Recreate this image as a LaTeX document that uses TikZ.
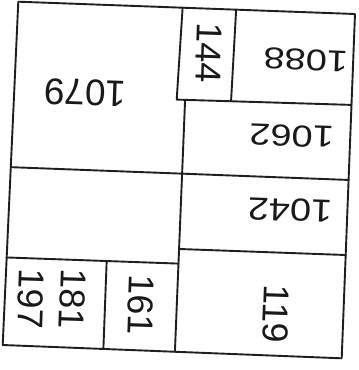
\documentclass[tikz,border=0pt]{standalone}
\usepackage{fontspec}
\setmainfont{Liberation Sans}
\usetikzlibrary{calc}
\begin{document}
\begin{tikzpicture}[x=1pt,y=-1pt,
  wall/.style={line width=1.9pt,draw=black!88,line cap=round,line join=round},
  hlabel/.style={inner sep=0pt,rotate=178,font=\fontsize{38}{38}\selectfont,text=black!90},
  vlabel/.style={inner sep=0pt,rotate=-92,font=\fontsize{36}{36}\selectfont,text=black!90}]
\fill[white] (0,0) rectangle (359,370);
\useasboundingbox (0,0) rectangle (359,370);
% corners
\coordinate (TL) at (18.3,1.7);
\coordinate (TR) at (355,14);
\coordinate (BR) at (341.7,358.3);
\coordinate (BL) at (2.7,345);
% 144 box and first cross line
\coordinate (P1) at ($(TL)!0.488!(TR)$);
\coordinate (P2) at ($(TL)!0.647!(TR)$);
\coordinate (H1a) at (176.7,99.6);
\coordinate (H1b) at ($(TR)!0.264!(BR)$);
\coordinate (P2b) at ($(H1a)!0.311!(H1b)$);
% long vertical
\coordinate (Vt) at ($(H1a)!0.048!(H1b)$);
\coordinate (Vb) at ($(BL)!0.508!(BR)$);
% long horizontal
\coordinate (L2a) at ($(TL)!0.482!(BL)$);
\coordinate (L2b) at ($(TR)!0.482!(BR)$);
% right column lower line
\coordinate (L3a) at ($(Vt)!0.592!(Vb)$);
\coordinate (L3b) at ($(TR)!0.70!(BR)$);
% left lower line
\coordinate (L4a) at ($(TL)!0.745!(BL)$);
\coordinate (L4b) at ($(Vt)!0.650!(Vb)$);
% small separator
\coordinate (S1) at ($(L4a)!0.582!(L4b)$);
\coordinate (S2) at ($(BL)!0.297!(BR)$);
% walls
\draw[wall] (TL) -- (TR) -- (BR) -- (BL) -- cycle;
\draw[wall] (P1) -- (H1a) -- (H1b);
\draw[wall] (P2) -- (P2b);
\draw[wall] (Vt) -- (Vb);
\draw[wall] (L2a) -- (L2b);
\draw[wall] (L3a) -- (L3b);
\draw[wall] (L4a) -- (L4b);
\draw[wall] (S1) -- (S2);
% labels
\node[hlabel,font=\fontsize{37}{37}\selectfont] (n1079) at (85.3,92.7) {1079};
\node[hlabel] (n1088) at (305.8,60) {\scalebox{1}[0.79]{1088}};
\node[hlabel] (n1062) at (291.7,135.8) {\scalebox{1}[0.8]{1062}};
\node[hlabel] (n1042) at (290,210) {\scalebox{1}[0.84]{1042}};
\node[vlabel] (n144) at (209,52.5) {144};
\node[vlabel] (n119) at (275.8,314) {119};
\node[vlabel] (n161) at (141,305) {161};
\node[vlabel] (n197) at (30.8,299) {197};
\node[vlabel] (n181) at (72.5,299) {181};
\end{tikzpicture}
\end{document}
